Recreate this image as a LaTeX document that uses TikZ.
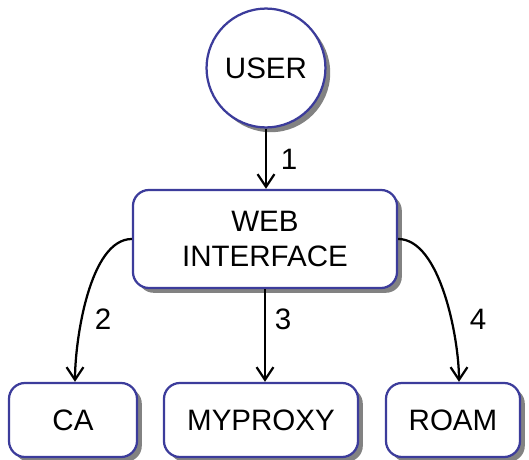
\documentclass[tikz,border=0pt]{standalone}
\usepackage{fontspec}
\setmainfont{Liberation Sans}
\usetikzlibrary{arrows.meta,shadows}
\definecolor{boxblue}{RGB}{60,60,155}
\definecolor{shadowgray}{RGB}{130,130,130}

\begin{document}
\begin{tikzpicture}[x=0.025cm, y=-0.025cm,
    box/.style={draw=boxblue, line width=1.6pt, fill=white, rounded corners=0.4cm,
        inner sep=0pt, align=center, font=\fontsize{21}{25}\selectfont,
        drop shadow={shadow xshift=0.12cm, shadow yshift=-0.12cm, fill=shadowgray, opacity=1}},
    link/.style={line width=1.6pt, -{Straight Barb[length=9pt, width=12pt, line width=1.6pt]}},
    num/.style={font=\fontsize{21}{25}\selectfont}]
    \useasboundingbox (0,0) rectangle (529,460);

    % Draw the user
    \node[box, circle, rounded corners=0pt, minimum size=2.97cm] (user) at (266, 68) {USER};

    % Draw the web interface
    \node[box, minimum width=6.6cm, minimum height=2.45cm] (web) at (265, 239) {WEB\\INTERFACE};

    % Draw the back-end services
    \node[box, minimum width=3.2cm, minimum height=1.85cm] (ca) at (73, 420) {CA};
    \node[box, minimum width=4.85cm, minimum height=1.85cm] (myproxy) at (261, 420) {MYPROXY};
    \node[box, minimum width=3.35cm, minimum height=1.85cm] (roam) at (453, 420) {ROAM};

    % Draw the requests
    \draw[link] (user.south) -- (user.south |- web.north); % Request 1
    \draw[link] (web.west) to[out=180, in=90, looseness=0.7] ([xshift=0.05cm]ca.north); % Request 2
    \draw[link] (web.south) -- (web.south |- myproxy.north); % Request 3
    \draw[link] (web.east) to[out=0, in=90, looseness=0.7] ([xshift=0.15cm]roam.north); % Request 4

    % Number the requests
    \node[num] (n1) at (289, 159) {1};
    \node[num] (n2) at (103, 319) {2};
    \node[num] (n3) at (283, 319) {3};
    \node[num] (n4) at (478, 319) {4};
\end{tikzpicture}
\end{document}
